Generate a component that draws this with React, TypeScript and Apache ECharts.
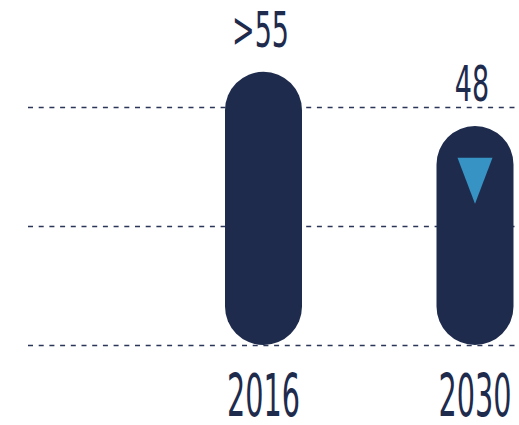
import React, { useEffect, useRef } from "react";
import * as echarts from "echarts";

const categories = ["2016", "2030"];
const barValues = [57.4, 46];
const valueLabels = [">55", "48"];
const markerValues: (number | string)[] = ["-", 34.5];
const yMin = 0;
const yMax = 50;
const yInterval = 25;

const NAVY = "#1e2b4d";
const FONT = "'DejaVu Sans Condensed', 'Liberation Sans Narrow', 'Liberation Sans', sans-serif";

export default function App() {
  const ref = useRef<HTMLDivElement>(null);
  useEffect(() => {
    if (!ref.current) return;
    const chart = echarts.init(ref.current, undefined, { renderer: "svg" });
    const option: any = {
      animation: false,
      backgroundColor: "#ffffff",
      grid: [
        { left: 28, right: 0, top: 107, bottom: 80 },
        { left: 263.5, right: 44, top: 107, bottom: 80 },
      ],
      xAxis: [
        { type: "category", gridIndex: 0, data: ["a"], show: false },
        {
          type: "category",
          gridIndex: 1,
          data: categories,
          boundaryGap: false,
          axisLine: { show: false },
          axisTick: { show: false },
          axisLabel: { show: false },
          splitLine: { show: false },
        },
      ],
      yAxis: [
        {
          type: "value",
          gridIndex: 0,
          min: yMin,
          max: yMax,
          interval: yInterval,
          axisLine: { show: false },
          axisTick: { show: false },
          axisLabel: { show: false },
          splitLine: {
            show: true,
            lineStyle: { color: "#2a3558", width: 1.4, type: [5, 5.7] },
          },
        },
        {
          type: "value",
          gridIndex: 1,
          min: yMin,
          max: yMax,
          interval: yInterval,
          show: false,
          splitLine: { show: false },
        },
      ],
      series: [
        {
          type: "bar",
          xAxisIndex: 1,
          yAxisIndex: 1,
          data: barValues,
          barWidth: 77,
          clip: false,
          itemStyle: { color: NAVY, borderRadius: 38.5 },
          z: 2,
        },
        {
          type: "scatter",
          xAxisIndex: 1,
          yAxisIndex: 1,
          data: markerValues,
          symbol: "triangle",
          symbolRotate: 180,
          symbolSize: [35, 46],
          itemStyle: { color: "#3daee2" },
          z: 3,
        },
        {
          type: "custom",
          xAxisIndex: 1,
          yAxisIndex: 1,
          data: categories.map((c, i) => [i, barValues[i]]),
          clip: false,
          z: 4,
          renderItem: (params: any, api: any) => {
            const i = params.dataIndex;
            const top = api.coord([api.value(0), api.value(1)]);
            const base = api.coord([api.value(0), 0]);
            return {
              type: "group",
              children: [
                {
                  type: "text",
                  x: top[0] - 3,
                  y: top[1] - 42,
                  scaleX: 0.6,
                  style: {
                    text: valueLabels[i],
                    x: 0,
                    y: 0,
                    fontSize: 50,
                    fontFamily: FONT,
                    fill: NAVY,
                    align: "center",
                    verticalAlign: "middle",
                  },
                },
                {
                  type: "text",
                  x: base[0],
                  y: base[1] + 51,
                  scaleX: 0.55,
                  style: {
                    text: categories[i],
                    x: 0,
                    y: 0,
                    fontSize: 58,
                    fontFamily: FONT,
                    fill: NAVY,
                    align: "center",
                    verticalAlign: "middle",
                  },
                },
              ],
            };
          },
        },
      ],
    };
    chart.setOption(option);
    return () => chart.dispose();
  }, []);
  return <div ref={ref} style={{ width: 519, height: 425, position: "absolute", left: 0, top: 0 }} />;
}
